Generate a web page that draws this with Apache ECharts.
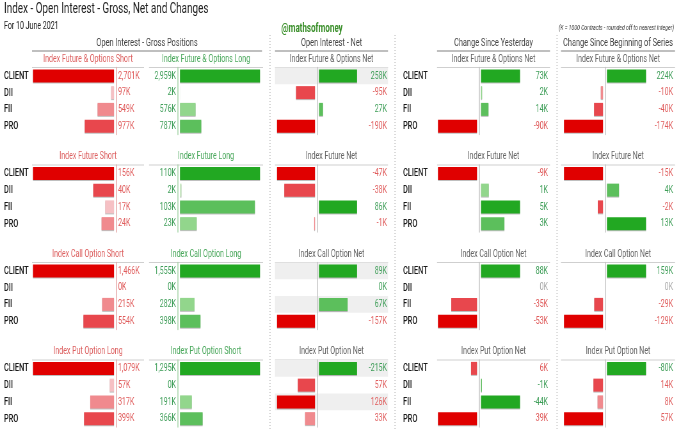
<!DOCTYPE html>
<html>
<head>
<meta charset="utf-8">
<title>Index - Open Interest - Gross, Net and Changes</title>
<script src="https://cdn.jsdelivr.net/npm/echarts@6/dist/echarts.min.js"></script>
<style>
  html, body { margin: 0; padding: 0; background: #fff; overflow: hidden; }
  /* the original uses a condensed face; none is installed, so squeeze the whole chart */
  #chart { width: 1063px; height: 430px; transform: scaleX(0.64); transform-origin: 0 0; }
</style>
</head>
<body>
<div id="chart"></div>
<script>
// ---- data (K = 1000 contracts) ----
const rows = ['CLIENT', 'DII', 'FII', 'PRO'];
const sectionTitles = ['Open Interest - Gross Positions', 'Open Interest - Net', 'Change Since Yesterday', 'Change Since Beginning of Series'];
const shortTitles = ['Index Future & Options Short', 'Index Future Short', 'Index Call Option Short', 'Index Put Option Long'];
const longTitles = ['Index Future & Options Long', 'Index Future Long', 'Index Call Option Long', 'Index Put Option Short'];
const netTitles = ['Index Future & Options Net', 'Index Future Net', 'Index Call Option Net', 'Index Put Option Net'];

const shortOI = [[2701, 97, 549, 977], [156, 40, 17, 24], [1466, 0, 215, 554], [1079, 57, 317, 399]];
const longOI = [[2959, 2, 576, 787], [110, 2, 103, 23], [1555, 0, 282, 398], [1295, 0, 191, 366]];
const netOI = [[258, -95, 27, -190], [-47, -38, 86, -1], [89, 0, 67, -157], [-215, 57, 126, 33]];
const changeYesterday = [[73, 2, 14, -90], [-9, 1, 5, 3], [88, 0, -35, -53], [6, -1, -44, 39]];
const changeSeries = [[224, -10, -40, -174], [-15, 4, -2, 13], [159, 0, -29, -129], [-80, 14, 8, 57]];
// net put longs are bearish, so that block is drawn the other way round
const bullishSign = [1, 1, 1, -1];
const bandedRows = [[0], [], [0, 2], [0, 2]];

// ---- look ----
const SX = 0.64;               // must match the css scaleX
const X = (v) => v / SX;       // page px -> chart px
const FONT = 'Roboto, "Liberation Sans", sans-serif';
const RED = ['#e00000', '#e8474d', '#f08a8e', '#f6c0c4'];
const GREEN = ['#22a822', '#5cbf5c', '#92d68c', '#c8eac2'];
const RED_TEXT = '#e05c5c';
const GREEN_TEXT = '#3e9e58';
const BLOCK_TOP = 67.5;
const BLOCK_STEP = 97.5;
const BLOCK_H = 67;

function fmtK(v) {
  return v.toLocaleString('en-US') + 'K';
}

// bars get darker the bigger they are within their own sign
function shade(values, i, palette) {
  const v = values[i];
  const rank = values.filter((x) => Math.sign(x) === Math.sign(v) && Math.abs(x) > Math.abs(v)).length;
  return palette[Math.min(rank, palette.length - 1)];
}

const grids = [];
const xAxes = [];
const yAxes = [];
const series = [];
const graphic = [];

function addGrid(left, width, top, xOpts) {
  grids.push({ left: X(left), top, width: X(width), height: BLOCK_H });
  const gi = grids.length - 1;
  xAxes.push(Object.assign({ gridIndex: gi, type: 'value', show: false, min: 0 }, xOpts));
  return gi;
}

function addY(gi, opts) {
  const axis = Object.assign({
    gridIndex: gi, type: 'category', data: rows, inverse: true,
    axisTick: { show: false },
    axisLine: { show: false, onZero: false },
    axisLabel: { show: false },
    splitLine: { show: false },
  }, opts);
  if (opts.offset) axis.offset = X(opts.offset);
  if (opts.axisLabel) {
    axis.axisLabel = Object.assign({ show: true, fontFamily: FONT, fontSize: 11 }, opts.axisLabel);
    axis.axisLabel.margin = X(opts.axisLabel.margin || 0);
  }
  if (opts.axisLine) axis.axisLine = Object.assign({ show: true, onZero: false }, opts.axisLine);
  yAxes.push(axis);
  return yAxes.length - 1;
}

function addBars(gi, yi, data, colors) {
  series.push({
    type: 'bar', xAxisIndex: gi, yAxisIndex: yi, barWidth: 13, silent: true,
    data: data.map((v, i) => (v > 0 ? { value: v, itemStyle: { color: colors[i] } } : '-')),
    itemStyle: { shadowColor: 'rgba(0,0,0,0.25)', shadowOffsetY: 1 },
  });
}

function valueLabels(values, colorOf) {
  return {
    formatter: (val) => fmtK(values[rows.indexOf(val)]),
    color: (val) => colorOf(values[rows.indexOf(val)]),
  };
}

function text(x, y, str, size, color, align, extra) {
  graphic.push({
    type: 'text', x: X(x), y, silent: true,
    style: Object.assign({ text: str, fontFamily: FONT, fontSize: size, fill: color, align, verticalAlign: 'middle' }, extra || {}),
  });
}

function hline(x1, x2, y, color, width) {
  graphic.push({ type: 'line', silent: true, shape: { x1: X(x1), y1: y, x2: X(x2), y2: y }, style: { stroke: color, lineWidth: width } });
}

const lineV = (color) => ({ lineStyle: { color, width: 1.5 } });
const rowLabel = (margin) => ({ align: 'left', margin, color: '#1a1a1a', fontSize: 11.5, fontWeight: 500 });

// panel with bars going left for bearish and right for bullish, each side on its own scale
function signedPanel(top, values, sign, geo, zeroColor, band) {
  const bars = values.map((v) => v * sign);
  const negMax = Math.max(1, ...bars.map((v) => -v));
  const posMax = Math.max(1, ...bars);
  if (band) {
    const gb = addGrid(275, 113, top, { max: 1 });
    addY(gb, {
      splitArea: { show: true, areaStyle: { color: rows.map((r, i) => (band.includes(i) ? '#efefef' : 'rgba(0,0,0,0)')) } },
    });
  }
  const gn = addGrid(geo.left, geo.width, top, { inverse: true, max: negMax });
  const yn = geo.rowLabels
    ? addY(gn, { position: 'left', axisLabel: rowLabel(geo.left - 403) })
    : addY(gn, { position: 'left' });
  addBars(gn, yn, bars.map((v) => -v), bars.map((v, i) => shade(bars, i, RED)));

  const posLeft = geo.left + geo.width + 4;
  const gp = addGrid(posLeft, geo.width, top, { max: posMax });
  const yp = addY(gp, { position: 'left', offset: 2, axisLine: lineV('#c4c4c4') });
  addY(gp, {
    position: 'right',
    axisLabel: Object.assign({ align: 'right', margin: geo.valueRight - posLeft - geo.width },
      valueLabels(values, (v) => (v * sign > 0 ? GREEN_TEXT : v * sign < 0 ? RED_TEXT : zeroColor))),
  });
  addBars(gp, yp, bars, bars.map((v, i) => shade(bars, i, GREEN)));
}

// ---- headers ----
const sectionSpans = [[32, 262], [275, 388], [437, 550], [561, 675]];
const panelSpans = [[32, 144], [149, 263], [275, 388], [437, 550], [561, 675]];

text(4, 9, 'Index - Open Interest - Gross, Net and Changes', 15.5, '#222', 'left');
text(4, 26, 'For 10 June 2021', 11, '#222', 'left');
text(312, 29, '@mathsofmoney', 12.5, '#3a8f2a', 'center', { fontWeight: 'bold' });
text(674, 28, '(K = 1000 Contracts - rounded off to nearest integer)', 8, '#333', 'right', { fontStyle: 'italic' });

sectionTitles.forEach((t, i) => {
  const [a, b] = sectionSpans[i];
  text((a + b) / 2, 43, t, 11.5, '#444', 'center');
  hline(a, b, 51, '#aaa', 1.5);
});

[270, 395, 557].forEach((x) => {
  graphic.push({ type: 'line', silent: true, shape: { x1: X(x), y1: 35, x2: X(x), y2: 430 }, style: { stroke: '#bbb', lineWidth: 1.5, lineDash: [1, 2] } });
});

// ---- blocks ----
for (let b = 0; b < 4; b++) {
  const top = BLOCK_TOP + b * BLOCK_STEP;
  const subTitles = [shortTitles[b], longTitles[b], netTitles[b], netTitles[b], netTitles[b]];
  const subColors = ['#dd6161', '#4aa85c', '#666', '#666', '#666'];
  panelSpans.forEach(([a, c], i) => {
    text((a + c) / 2, top - 8.5, subTitles[i], 11, subColors[i], 'center');
    hline(a, c, top, '#cfcfcf', 1);
  });

  // gross short, growing left
  const gs = addGrid(33, 81, top, { inverse: true, max: Math.max(...shortOI[b]) });
  const ys = addY(gs, { position: 'left', axisLabel: rowLabel(29) });
  addY(gs, {
    position: 'right', offset: 2,
    axisLine: lineV('#e6a8a8'),
    axisLabel: Object.assign({ margin: 2 }, valueLabels(shortOI[b], () => RED_TEXT)),
  });
  addBars(gs, ys, shortOI[b], shortOI[b].map((v, i) => shade(shortOI[b], i, RED)));

  // gross long, growing right
  const gl = addGrid(180, 80, top, { max: Math.max(...longOI[b]) });
  const yl = addY(gl, {
    position: 'left', offset: 2,
    axisLine: lineV('#a6d6a8'),
    axisLabel: Object.assign({ margin: 2 }, valueLabels(longOI[b], () => GREEN_TEXT)),
  });
  addBars(gl, yl, longOI[b], longOI[b].map((v, i) => shade(longOI[b], i, GREEN)));

  signedPanel(top, netOI[b], bullishSign[b], { left: 277, width: 38, valueRight: 387 }, GREEN_TEXT, bandedRows[b].length ? bandedRows[b] : null);
  signedPanel(top, changeYesterday[b], bullishSign[b], { left: 438, width: 39, valueRight: 548, rowLabels: true }, '#aaa', null);
  signedPanel(top, changeSeries[b], bullishSign[b], { left: 564, width: 39, valueRight: 673 }, '#aaa', null);
}

const chart = echarts.init(document.getElementById('chart'), null, { renderer: 'canvas' });
chart.setOption({
  animation: false,
  backgroundColor: '#fff',
  textStyle: { fontFamily: FONT },
  grid: grids,
  xAxis: xAxes,
  yAxis: yAxes,
  series,
  graphic,
});
</script>
</body>
</html>
